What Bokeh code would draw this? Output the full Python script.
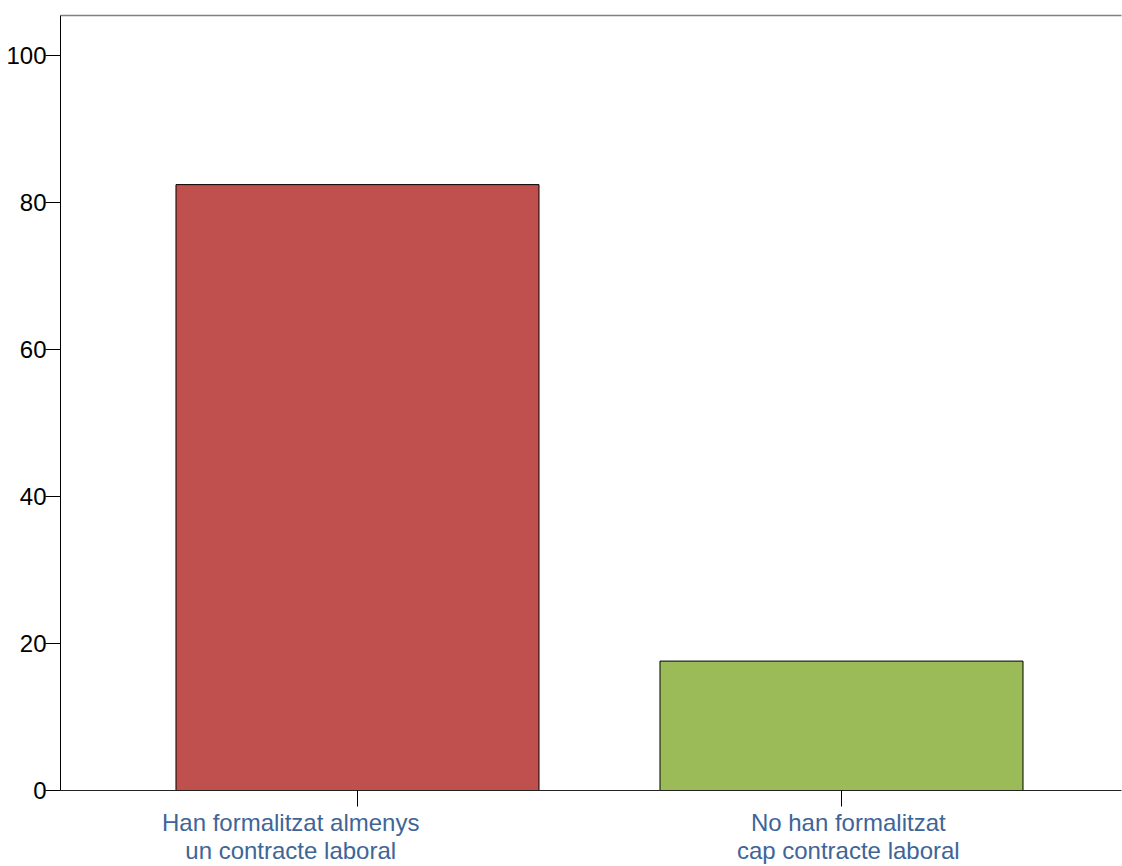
from bokeh.plotting import figure
from bokeh.models import Range1d, FixedTicker, LinearAxis, ColumnDataSource
from bokeh.embed import file_html
from bokeh.resources import INLINE

categories = ["Han formalitzat almenys\nun contracte laboral",
              "No han formalitzat\ncap contracte laboral"]
values = [82.4, 17.6]
colors = ["#c0504d", "#9bbb59"]
y_ticks = [0, 20, 40, 60, 80, 100]
label_dx = [-67, 7]   # pixel offset of each category label's centre from its tick

idx = list(range(len(categories)))
src = ColumnDataSource(dict(x=idx, top=values, color=colors))

x_start, x_end = -0.6136, 1.5785
frame_w = 1061
px_per_unit = frame_w / (x_end - x_start)
label_pos = [round(i + d / px_per_unit, 3) for i, d in zip(idx, label_dx)]

p = figure(width=1122, height=866, output_backend="svg", toolbar_location=None,
           x_range=Range1d(x_start, x_end), y_range=Range1d(0, 105.4),
           min_border_left=60, min_border_right=1, min_border_top=15, min_border_bottom=76,
           x_axis_location=None, y_axis_location=None)
p.outline_line_color = None
p.grid.visible = False
p.background_fill_color = "white"
p.border_fill_color = "white"

p.vbar(x="x", top="top", width=0.75, bottom=0, source=src, fill_color="color",
       line_color="black", line_width=1)

font = "Liberation Sans"

xa = LinearAxis(ticker=FixedTicker(ticks=idx))
xa.axis_line_color = "#222222"
xa.axis_line_width = 1
xa.major_tick_line_color = "black"
xa.major_tick_out = 16
xa.major_tick_in = 0
xa.minor_tick_line_color = None
xa.major_label_text_color = None
xa.major_label_text_font_size = "0px"
xa.major_label_standoff = 0
p.add_layout(xa, "below")

xl = LinearAxis(ticker=FixedTicker(ticks=label_pos),
                major_label_overrides={pos: c for pos, c in zip(label_pos, categories)})
xl.axis_line_color = None
xl.major_tick_line_color = None
xl.minor_tick_line_color = None
xl.major_tick_out = 0
xl.major_tick_in = 0
xl.major_label_standoff = 2
xl.major_label_text_font = font
xl.major_label_text_font_size = "24px"
xl.major_label_text_color = "#3e6597"
xl.major_label_text_line_height = 1.05
p.add_layout(xl, "below")

ya = LinearAxis(ticker=FixedTicker(ticks=y_ticks))
ya.axis_line_color = "black"
ya.major_tick_line_color = "black"
ya.major_tick_out = 15
ya.major_tick_in = 0
ya.minor_tick_line_color = None
ya.major_label_text_font = font
ya.major_label_text_font_size = "24px"
ya.major_label_text_color = "black"
ya.major_label_standoff = -1
p.add_layout(ya, "left")

top = LinearAxis(ticker=FixedTicker(ticks=[]))
top.axis_line_color = "#808080"
top.axis_line_width = 1.5
top.major_tick_line_color = None
top.minor_tick_line_color = None
top.major_label_text_font_size = "0px"
p.add_layout(top, "above")

open("out.html", "w").write(file_html(p, INLINE))
